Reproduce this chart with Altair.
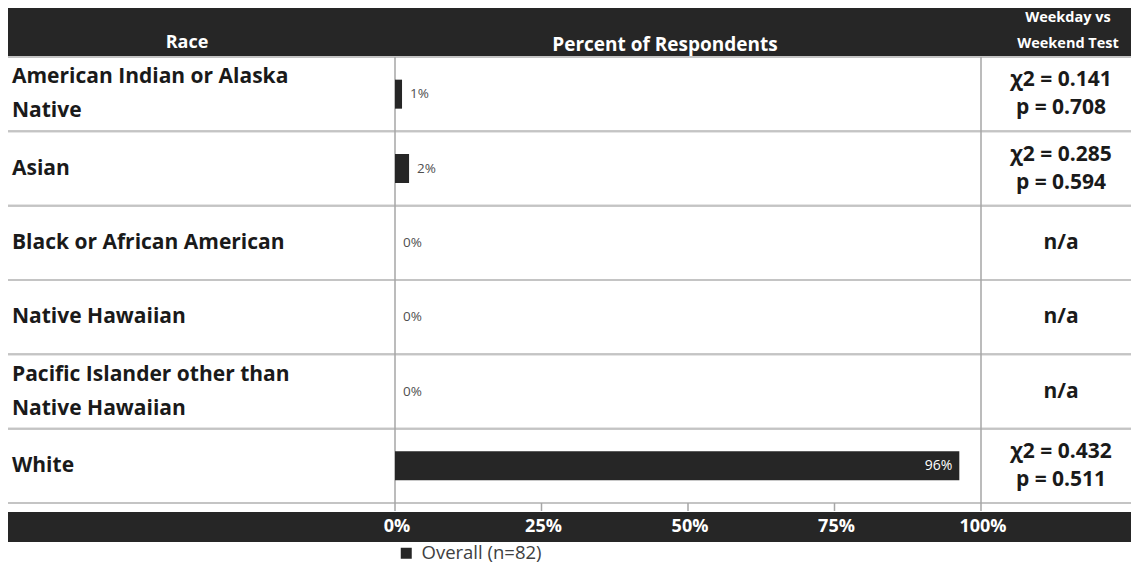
import altair as alt
import pandas as pd

# ---- data ----
races = [
    "American Indian or Alaska Native",
    "Asian",
    "Black or African American",
    "Native Hawaiian",
    "Pacific Islander other than Native Hawaiian",
    "White",
]
race_labels = [
    "American Indian or Alaska\nNative",
    "Asian",
    "Black or African American",
    "Native Hawaiian",
    "Pacific Islander other than\nNative Hawaiian",
    "White",
]
pct = [1.2, 2.4, 0.0, 0.0, 0.0, 96.3]
pct_labels = ["1%", "2%", "0%", "0%", "0%", "96%"]
tests = [
    "χ2 = 0.141\np = 0.708",
    "χ2 = 0.285\np = 0.594",
    "n/a",
    "n/a",
    "n/a",
    "χ2 = 0.432\np = 0.511",
]
tick_values = [0, 25, 50, 75, 100]
tick_labels = ["0%", "25%", "50%", "75%", "100%"]
series_name = "Overall (n=82)"
header_race = "Race"
header_pct = "Percent of Respondents"
header_test = "Weekday vs\nWeekend Test"

# ---- layout ----
W, H = 1123, 560
HEADER_BOTTOM = 49
ROWS_TOP, ROWS_BOTTOM = 49, 495
BAR_TOP, BAR_BOTTOM = 504, 534
FONT = "Open Sans"
DARK = "#262626"
GRID = "#c4c4c4"
TXT = "#1a1a1a"

df = pd.DataFrame({
    "race": races,
    "label": race_labels,
    "pct": pct,
    "pct_label": pct_labels,
    "test": tests,
    "series": [series_name] * len(races),
})
ticks = pd.DataFrame({"v": tick_values, "lab": tick_labels})
one = pd.DataFrame({"a": [0]})

xs = alt.Scale(domain=[0, 100], range=[387, 973])
ys = alt.Scale(domain=races, range=[ROWS_TOP, ROWS_BOTTOM], paddingInner=0, paddingOuter=0)
X = lambda f: alt.X(f, scale=xs, axis=None)
Y = alt.Y("race:N", scale=ys, axis=None)

header = alt.Chart(one).mark_rect(color=DARK).encode(
    x=alt.value(0), x2=alt.value(W), y=alt.value(0), y2=alt.value(HEADER_BOTTOM)
)
header_txt1 = alt.Chart(pd.DataFrame({"t": [header_race]})).mark_text(
    font=FONT, fontWeight="bold", fontSize=18, color="white", align="center", baseline="middle"
).encode(x=alt.value(179), y=alt.value(35), text="t:N")
header_txt2 = alt.Chart(pd.DataFrame({"t": [header_pct]})).mark_text(
    font=FONT, fontWeight="bold", fontSize=19, color="white", align="center", baseline="middle"
).encode(x=alt.value(657), y=alt.value(37), text="t:N")
header_txt3 = alt.Chart(pd.DataFrame({"t": [header_test]})).mark_text(
    font=FONT, fontWeight="bold", fontSize=14.5, color="white", align="center", baseline="middle",
    lineBreak="\n", lineHeight=26, dy=-13
).encode(x=alt.value(1060), y=alt.value(23), text="t:N")

row_top = alt.Chart(df).mark_rule(color=GRID, strokeWidth=2).encode(
    x=alt.value(0), x2=alt.value(W), y=alt.Y("race:N", scale=ys, axis=None, bandPosition=0)
)
row_bot = alt.Chart(df).mark_rule(color=GRID, strokeWidth=2).encode(
    x=alt.value(0), x2=alt.value(W), y=alt.Y("race:N", scale=ys, axis=None, bandPosition=1)
)

dividers = alt.Chart(ticks).transform_filter("datum.v == 0 || datum.v == 100").mark_rule(
    color="#a6a6a6", strokeWidth=1.5
).encode(x=X("v:Q"), y=alt.value(ROWS_TOP), y2=alt.value(ROWS_BOTTOM))
tick_marks = alt.Chart(ticks).mark_rule(color="#a6a6a6", strokeWidth=1.5).encode(
    x=X("v:Q"), y=alt.value(ROWS_BOTTOM), y2=alt.value(ROWS_BOTTOM + 8)
)

bars = alt.Chart(df).mark_bar(size=29).encode(
    x=X("pct:Q"),
    y=Y,
    color=alt.Color(
        "series:N",
        scale=alt.Scale(range=[DARK]),
        legend=alt.Legend(
            orient="none", legendX=389, legendY=536, title=None, symbolType="square",
            symbolSize=121, symbolStrokeWidth=0, labelFont=FONT, labelFontSize=18.5,
            labelColor="#404040", padding=0, labelOffset=6,
        ),
    ),
)
lab_out = alt.Chart(df).transform_filter("datum.pct < 50").mark_text(
    font=FONT, fontSize=13.5, color="#505050", align="left", baseline="middle", dx=8
).encode(x=X("pct:Q"), y=Y, text="pct_label:N")
lab_in = alt.Chart(df).transform_filter("datum.pct >= 50").mark_text(
    font=FONT, fontSize=14, color="white", align="right", baseline="middle", dx=-7
).encode(x=X("pct:Q"), y=Y, text="pct_label:N")

MULTI_LABEL = "indexof(datum.label, '\\n') >= 0"
MULTI_TEST = "indexof(datum.test, '\\n') >= 0"
race_style = dict(font=FONT, fontWeight="bold", fontSize=21, color=TXT, align="left",
                  baseline="middle", lineBreak="\n", lineHeight=34)
race_single = alt.Chart(df).transform_filter("!(" + MULTI_LABEL + ")").mark_text(
    **race_style).encode(x=alt.value(4), y=Y, text="label:N")
race_multi = alt.Chart(df).transform_filter(MULTI_LABEL).mark_text(
    dy=-17, **race_style).encode(x=alt.value(4), y=Y, text="label:N")

test_style = dict(font=FONT, fontWeight="bold", fontSize=21, color=TXT, align="center",
                  baseline="middle", lineBreak="\n", lineHeight=28)
test_single = alt.Chart(df).transform_filter("!(" + MULTI_TEST + ")").mark_text(
    **test_style).encode(x=alt.value(1053), y=Y, text="test:N")
test_multi = alt.Chart(df).transform_filter(MULTI_TEST).mark_text(
    dy=-14, **test_style).encode(x=alt.value(1053), y=Y, text="test:N")

bottom = alt.Chart(one).mark_rect(color=DARK).encode(
    x=alt.value(0), x2=alt.value(W), y=alt.value(BAR_TOP), y2=alt.value(BAR_BOTTOM)
)
tick_txt = alt.Chart(ticks).mark_text(
    font=FONT, fontWeight="bold", fontSize=18, color="white", align="center", baseline="middle", dx=2
).encode(x=X("v:Q"), y=alt.value((BAR_TOP + BAR_BOTTOM) / 2), text="lab:N")

chart = alt.layer(
    header, header_txt1, header_txt2, header_txt3,
    row_top, row_bot, dividers, tick_marks,
    bars, lab_out, lab_in, race_single, race_multi, test_single, test_multi,
    bottom, tick_txt,
).properties(
    width=W, height=H, padding=0, autosize=alt.AutoSizeParams(type="none"), background="white"
).configure_view(stroke=None)

chart.save("out.html", embed_options={"renderer": "svg", "actions": False})
